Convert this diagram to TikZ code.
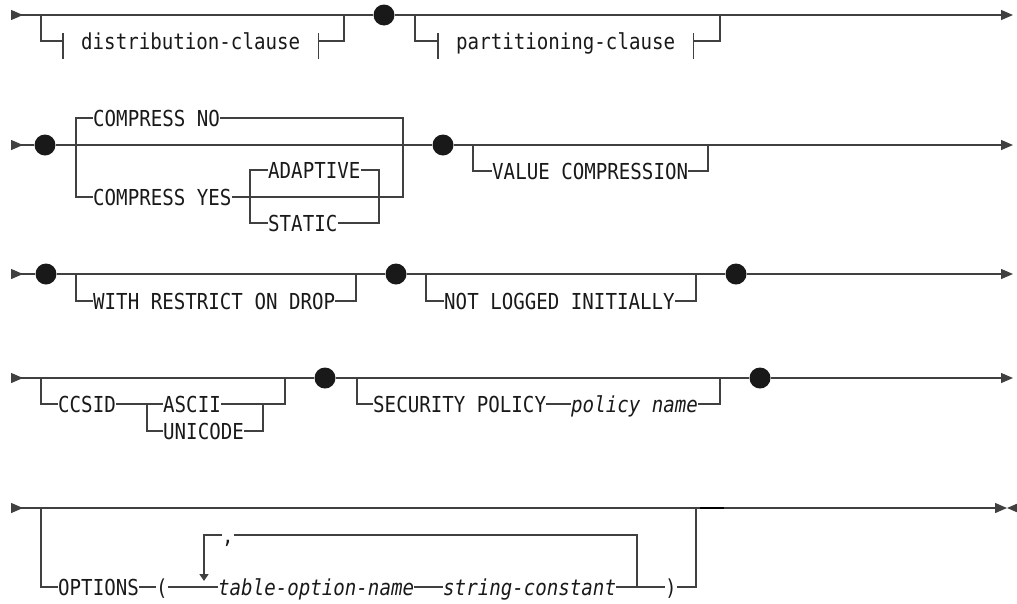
\documentclass[tikz,border=0pt]{standalone}
\usepackage{fontspec}
\newfontfamily\rrfont[FakeStretch=0.87,ItalicFont={DejaVu Sans Mono Oblique}]{DejaVu Sans Mono}
\usetikzlibrary{arrows.meta}

\begin{document}
\begin{tikzpicture}[x=1pt,y=-1pt,
 rr/.style={draw=black!75,line width=1.3pt},
 kw/.style={anchor=west,inner sep=0pt,text height=16pt,text depth=0pt,font=\rrfont\fontsize{22}{24}\selectfont,text=black!90},
 frag/.style={kw,inner xsep=18pt},
 dot/.style={circle,fill=black!90,inner sep=0pt,minimum size=21pt},
 tip/.style={rr,-{Triangle[length=12pt,width=10pt]}},
 entry/.style={rr,{Triangle[reversed,length=12pt,width=10pt]}-},
 through/.style={rr,{Triangle[reversed,length=12pt,width=10pt]}-{Triangle[length=12pt,width=10pt]}},
 loop/.style={rr,-{Triangle[length=7pt,width=9pt]}}]
\useasboundingbox (0,0) rectangle (1017,603);
% row 1
\coordinate (r1s) at (11,15); \coordinate (r1e) at (1013,15);
\node[dot] (p1) at (384,15) {};
\node[frag] (dist) at (63,41) {distribution-clause};
\node[frag] (part) at (438,41) {partitioning-clause};
\coordinate (d1a) at (41,15); \coordinate (d1b) at (344,15);
\coordinate (t1a) at (415,15); \coordinate (t1b) at (720,15);
\draw[entry] (r1s) -- (p1); \draw[tip] (p1) -- (r1e);
\draw[rr] (d1a) |- (dist.west); \draw[rr] (dist.east) -| (d1b);
\draw[rr] (t1a) |- (part.west); \draw[rr] (part.east) -| (t1b);
\foreach \n in {dist,part}
  \draw[rr] ([yshift=8pt]\n.west) -- ([yshift=-18pt]\n.west) ([yshift=8pt]\n.east) -- ([yshift=-18pt]\n.east);
% row 2
\coordinate (r2s) at (11,145); \coordinate (r2e) at (1013,145);
\node[dot] (p2) at (45,145) {}; \node[dot] (p3) at (443,145) {};
\node[kw] (cno) at (93,118) {COMPRESS NO};
\node[kw] (cyes) at (93,197) {COMPRESS YES};
\node[kw] (adp) at (268,170) {ADAPTIVE};
\node[kw] (sta) at (268,223) {STATIC};
\node[kw] (vcomp) at (492,171) {VALUE COMPRESSION};
\coordinate (c2a) at (76,145); \coordinate (c2b) at (403,145);
\coordinate (a2a) at (250,197); \coordinate (a2b) at (379,197);
\coordinate (v2a) at (473,145); \coordinate (v2b) at (708,145);
\draw[entry] (r2s) -- (p2); \draw[rr] (p2) -- (p3); \draw[tip] (p3) -- (r2e);
\draw[rr] (cno.west) -| (c2a) |- (cyes.west);
\draw[rr] (cno.east) -| (c2b) |- (cyes.east);
\draw[rr] (adp.west) -| (a2a) |- (sta.west);
\draw[rr] (adp.east) -| (a2b) |- (sta.east);
\draw[rr] (v2a) |- (vcomp.west); \draw[rr] (vcomp.east) -| (v2b);
% row 3
\coordinate (r3s) at (11,274); \coordinate (r3e) at (1013,274);
\node[dot] (p4) at (46,274) {}; \node[dot] (p5) at (396,274) {}; \node[dot] (p6) at (736,274) {};
\node[kw] (wrd) at (93,301) {WITH RESTRICT ON DROP};
\node[kw] (nli) at (444,301) {NOT LOGGED INITIALLY};
\coordinate (w3a) at (76,274); \coordinate (w3b) at (356,274);
\coordinate (n3a) at (426,274); \coordinate (n3b) at (696,274);
\draw[entry] (r3s) -- (p4); \draw[rr] (p4) -- (p5) (p5) -- (p6); \draw[tip] (p6) -- (r3e);
\draw[rr] (w3a) |- (wrd.west); \draw[rr] (wrd.east) -| (w3b);
\draw[rr] (n3a) |- (nli.west); \draw[rr] (nli.east) -| (n3b);
% row 4
\coordinate (r4s) at (11,378); \coordinate (r4e) at (1013,378);
\node[dot] (p7) at (325,378) {}; \node[dot] (p8) at (760,378) {};
\node[kw] (ccsid) at (58,404) {CCSID};
\node[kw] (ascii) at (163,404) {ASCII};
\node[kw] (unic) at (163,431) {UNICODE};
\node[kw] (secp) at (373,404) {SECURITY POLICY};
\node[kw] (pname) at (571,404) {\itshape policy name};
\coordinate (c4a) at (41,378); \coordinate (c4b) at (285,378);
\coordinate (u4a) at (147,404); \coordinate (u4b) at (263,404);
\coordinate (s4a) at (357,378); \coordinate (s4b) at (720,378);
\draw[entry] (r4s) -- (p7); \draw[rr] (p7) -- (p8); \draw[tip] (p8) -- (r4e);
\draw[rr] (c4a) |- (ccsid.west); \draw[rr] (ccsid.east) -- (ascii.west); \draw[rr] (ascii.east) -| (c4b);
\draw[rr] (u4a) |- (unic.west); \draw[rr] (unic.east) -| (u4b);
\draw[rr] (s4a) |- (secp.west); \draw[rr] (secp.east) -- (pname.west); \draw[rr] (pname.east) -| (s4b);
% row 5
\coordinate (r5s) at (11,508); \coordinate (r5e) at (1007,508); \coordinate (r5x) at (1019,508);
\node[kw] (opt) at (58,587) {OPTIONS};
\node[kw] (lpar) at (156,587) {(};
\node[kw] (ton) at (218,587) {\itshape table-option-name};
\node[kw] (sc) at (443,587) {\itshape string-constant};
\node[kw] (rpar) at (665,587) {)};
\node[kw] (comma) at (222,535) {,};
\coordinate (o5a) at (41,508); \coordinate (o5b) at (696,508);
\coordinate (l5a) at (204,581); \coordinate (l5b) at (637,587);
\coordinate (k5a) at (700,508); \coordinate (k5b) at (724,508);
\draw[through] (r5s) -- (r5e); \draw[tip] (r5x) -- (r5e);
\draw[rr] (o5a) |- (opt.west); \draw[rr] (rpar.east) -| (o5b);
\draw[rr] (opt.east) -- (lpar.west) (lpar.east) -- (ton.west) (ton.east) -- (sc.west) (sc.east) -- (rpar.west);
\draw[loop] (comma.west) -| (l5a);
\draw[rr] (l5b) |- (comma.east);
\draw[rr,line width=2.4pt,draw=black] (k5a) -- (k5b);
\end{tikzpicture}
\end{document}
